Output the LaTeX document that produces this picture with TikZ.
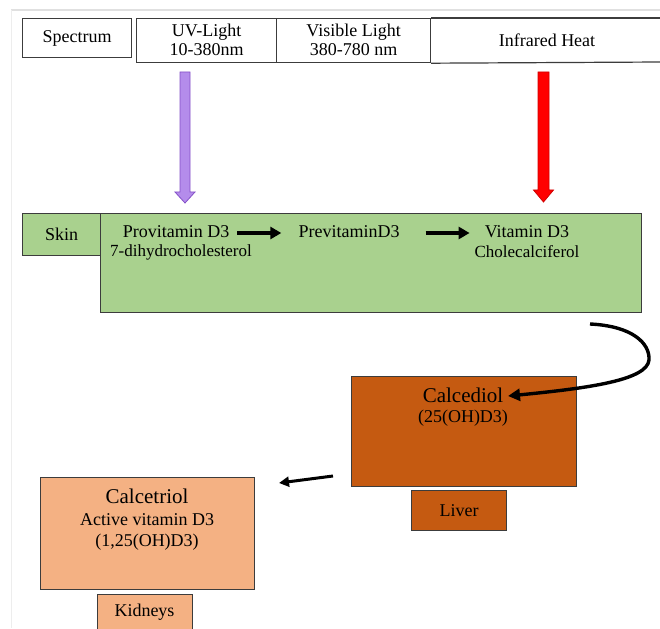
\documentclass[tikz,border=0pt]{standalone}
\usepackage{fontspec}
\setmainfont{Liberation Serif}
\usetikzlibrary{arrows.meta,calc}
\definecolor{boxline}{HTML}{3C3C3C}
\definecolor{skingreen}{HTML}{A9D18E}
\definecolor{liverbrown}{HTML}{C55A11}
\definecolor{kidneypeach}{HTML}{F4B183}
\definecolor{uvfill}{HTML}{B48CEB}
\definecolor{uvline}{HTML}{8450C8}
\definecolor{irline}{HTML}{D00000}
\begin{document}
\begin{tikzpicture}[x=1pt,y=-1pt,
  box/.style={draw=boxline, line width=1.2pt, inner sep=0pt, anchor=north west},
  lbl/.style={font=\fontsize{18}{19}\selectfont, align=center, inner sep=0pt},
  sublbl/.style={font=\fontsize{17}{18}\selectfont, align=center, inner sep=0pt},
  biglbl/.style={font=\fontsize{21}{23}\selectfont, align=center, inner sep=0pt},
  flowarrow/.style={line width=3.6pt, -{Triangle[length=11pt,width=12pt]}},
  blockarrow/.style={line width=0.8pt, line join=miter}]
\useasboundingbox (0,0) rectangle (660,628);
\fill[white] (0,0) rectangle (660,628);
% page edge shadow
\draw[black!12, line width=1.5pt] (11,10) -- (660,10);
\draw[black!7, line width=1pt] (11,10) -- (11,628);

% spectrum header
\node[box, minimum width=109pt, minimum height=39pt] (spec) at (22,18) {};
\node[lbl] (spectxt) at (spec.center) {Spectrum};
\node[box, minimum width=140pt, minimum height=44pt] (uv) at (136,18) {};
\node[box, minimum width=154pt, minimum height=44pt] (vis) at (276,18) {};
\node[lbl] (uvtxt) at ($(uv.center)+(0,-1)$) {UV-Light\\10-380nm};
\node[lbl] (vistxt) at ($(vis.center)+(0,-1)$) {Visible Light\\380-780 nm};
\draw[boxline, line width=1.2pt] (vis.north east) -- (662,18);
\draw[boxline, line width=1.2pt] (vis.south east) -- (662,62);
\node[lbl] (irtxt) at (547,40) {Infrared Heat};

% block arrows
\coordinate (uvtop) at (185,72);
\coordinate (irtop) at (543.5,72);
\filldraw[blockarrow, fill=uvfill, draw=uvline]
  ($(uvtop)+(-5,0)$) -- ($(uvtop)+(5,0)$) -- ($(uvtop)+(5,120)$) -- ($(uvtop)+(10,120)$)
  -- ($(uvtop)+(0,131)$) -- ($(uvtop)+(-10,120)$) -- ($(uvtop)+(-5,120)$) -- cycle;
\filldraw[blockarrow, fill=red, draw=irline]
  ($(irtop)+(-5.5,0)$) -- ($(irtop)+(5.5,0)$) -- ($(irtop)+(5.5,118)$) -- ($(irtop)+(10,118)$)
  -- ($(irtop)+(0,130)$) -- ($(irtop)+(-10,118)$) -- ($(irtop)+(-5.5,118)$) -- cycle;

% skin
\node[box, fill=skingreen, minimum width=541pt, minimum height=99pt] (skinbox) at (100,213) {};
\node[box, fill=skingreen, minimum width=78pt, minimum height=42pt] (skin) at (22,213) {};
\node[lbl] (skintxt) at (skin.center) {Skin};
\node[lbl] (provit) at (176,232) {Provitamin D3};
\node[sublbl] (dihydro) at (181,252) {7-dihydrocholesterol};
\node[lbl] (previt) at (349,232) {PrevitaminD3};
\node[lbl] (vitd) at (527,232) {Vitamin D3};
\node[sublbl] (chole) at (527,252) {Cholecalciferol};
\draw[flowarrow] ([xshift=8pt,yshift=-1pt]provit.east) -- ([xshift=-17pt,yshift=-1pt]previt.west);
\draw[flowarrow] ([xshift=26pt,yshift=-1pt]previt.east) -- ([xshift=-15pt,yshift=-1pt]vitd.west);

% liver
\node[box, fill=liverbrown, minimum width=225pt, minimum height=110pt] (calced) at (351,376) {};
\node[biglbl] (calcedtxt) at (463,395) {Calcediol};
\node[lbl] (calcedsub) at (463,418) {(25(OH)D3)};
\node[box, fill=liverbrown, minimum width=95pt, minimum height=40pt] (liver) at (411,490) {};
\node[lbl] (livertxt) at (liver.center) {Liver};

% curved connector skin -> calcediol
\coordinate (cstart) at (590,324);
\coordinate (cend) at (508,396);
\draw[line width=3.4pt, -{Triangle[length=12pt,width=12pt]}]
  (cstart) .. controls (632,326) and (650,343) .. (649,360)
  .. controls (647,380) and (590,388) .. (cend);

% kidneys
\node[box, fill=kidneypeach, minimum width=214pt, minimum height=112pt] (calcet) at (40,477) {};
\node[biglbl] (calcettxt) at (147,496) {Calcetriol};
\node[lbl] (calcetsub) at (147,520) {Active vitamin D3};
\node[lbl] (calcetsub2) at (147,542) {(1,25(OH)D3)};
\node[box, fill=kidneypeach, minimum width=95pt, minimum height=42pt] (kidney) at (97,594) {};
\node[lbl] (kidneytxt) at (144.5,612) {Kidneys};

% calcediol -> calcetriol
\coordinate (astart) at (333,476);
\coordinate (aend) at (279,483);
\draw[line width=3pt, -{Triangle[length=10pt,width=10pt]}] (astart) -- (aend);
\end{tikzpicture}
\end{document}
